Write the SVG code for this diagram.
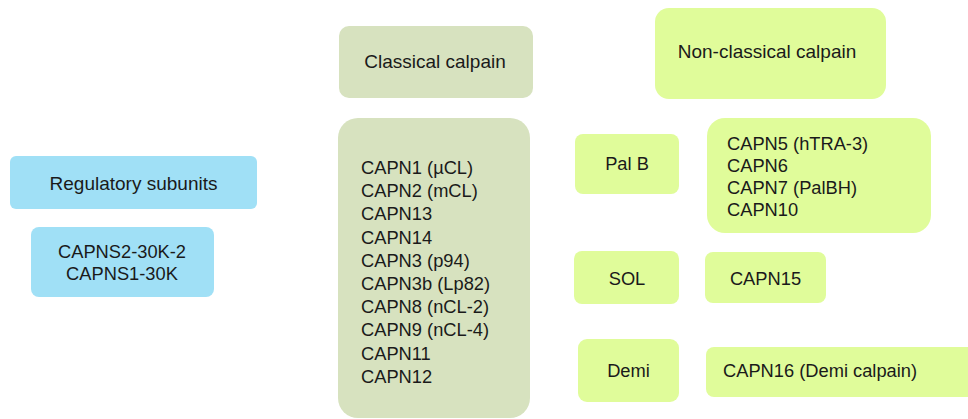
<svg xmlns="http://www.w3.org/2000/svg" width="968" height="419" viewBox="0 0 968 419">
<style>
text { font-family: "Liberation Sans", Arial, sans-serif; fill: #1a1a1a; }
.t { font-size: 19px; }
.l { font-size: 18.3px; }
.c { text-anchor: middle; }
.blue { fill: #a0e0f6; }
.olive { fill: #d7e2bf; }
.lime { fill: #e0fc9a; }
</style>
<rect width="968" height="419" fill="#ffffff"/>
<g id="regulatory-subunits">
<rect class="blue" x="10" y="156" width="247" height="53" rx="6"/>
<text class="t c" x="133.5" y="190">Regulatory subunits</text>
</g>
<g id="capns">
<rect class="blue" x="31" y="227" width="183" height="70" rx="8"/>
<text class="l c" x="122" y="258">CAPNS2-30K-2</text>
<text class="l c" x="122" y="280">CAPNS1-30K</text>
</g>
<g id="classical-calpain">
<rect class="olive" x="339" y="26" width="194" height="72" rx="10"/>
<text class="t c" x="435" y="68">Classical calpain</text>
</g>
<g id="classical-list">
<rect class="olive" x="338" y="118" width="192" height="300" rx="20"/>
<text class="l" x="361" y="174">CAPN1 (µCL)</text>
<text class="l" x="361" y="197.2">CAPN2 (mCL)</text>
<text class="l" x="361" y="220.4">CAPN13</text>
<text class="l" x="361" y="243.6">CAPN14</text>
<text class="l" x="361" y="266.8">CAPN3 (p94)</text>
<text class="l" x="361" y="290">CAPN3b (Lp82)</text>
<text class="l" x="361" y="313.2">CAPN8 (nCL-2)</text>
<text class="l" x="361" y="336.4">CAPN9 (nCL-4)</text>
<text class="l" x="361" y="359.6">CAPN11</text>
<text class="l" x="361" y="382.8">CAPN12</text>
</g>
<g id="non-classical-calpain">
<rect class="lime" x="655" y="8" width="231" height="91" rx="14"/>
<text class="t c" x="767" y="58">Non-classical calpain</text>
</g>
<g id="palb">
<rect class="lime" x="575" y="134" width="104" height="60" rx="8"/>
<text class="l c" x="627" y="170">Pal B</text>
</g>
<g id="palb-list">
<rect class="lime" x="707" y="118" width="224" height="115" rx="18"/>
<text class="l" x="727" y="150">CAPN5 (hTRA-3)</text>
<text class="l" x="727" y="172">CAPN6</text>
<text class="l" x="727" y="194">CAPN7 (PalBH)</text>
<text class="l" x="727" y="216">CAPN10</text>
</g>
<g id="sol">
<rect class="lime" x="574" y="251" width="105" height="53" rx="8"/>
<text class="l c" x="627" y="285">SOL</text>
</g>
<g id="capn15">
<rect class="lime" x="705" y="252" width="121" height="51" rx="8"/>
<text class="l c" x="765.5" y="285">CAPN15</text>
</g>
<g id="demi">
<rect class="lime" x="578" y="339" width="101" height="63" rx="9"/>
<text class="l c" x="628.5" y="377">Demi</text>
</g>
<g id="capn16">
<rect class="lime" x="706" y="347" width="280" height="50" rx="8"/>
<text class="l" x="723" y="377">CAPN16 (Demi calpain)</text>
</g>
<g id="connectors"></g>
</svg>
